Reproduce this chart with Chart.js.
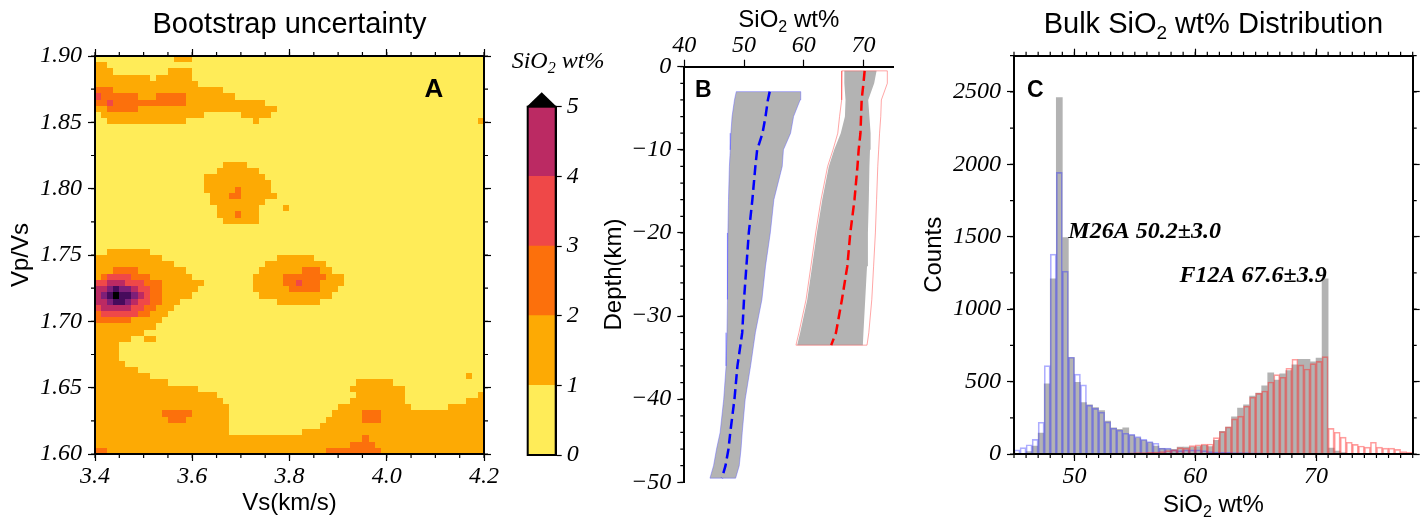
<!DOCTYPE html>
<html>
<head>
<meta charset="utf-8">
<title>Bootstrap uncertainty / SiO2 distribution</title>
<script src="https://cdn.jsdelivr.net/npm/chart.js@4.4.0/dist/chart.umd.min.js"></script>
<style>
  body { margin: 0; background: #fff; }
  #page { position: relative; width: 1423px; height: 519px; overflow: hidden; background: #fff; }
  canvas { position: absolute; top: 0; }
</style>
</head>
<body>
<div id="page">
  <canvas id="chartA" width="500" height="519" style="left:0"></canvas>
  <canvas id="chartBar" width="110" height="519" style="left:500px"></canvas>
  <canvas id="chartB" width="300" height="519" style="left:600px"></canvas>
  <canvas id="chartC" width="523" height="519" style="left:900px"></canvas>
</div>
<script>
// ---------- panel A : bootstrap uncertainty grid ----------
var vsRange = [3.4, 4.2];
var vpvsRange = [1.6, 1.9];
var vsTicks = [3.4, 3.6, 3.8, 4.0, 4.2];
var vpvsTicks = [1.60, 1.65, 1.70, 1.75, 1.80, 1.85, 1.90];
var levelColors = ['#ffec58', '#fdaa04', '#fc700c', '#ef4848', '#bb2a63', '#7e1f78', '#470b5c', '#000000'];
var colorbarTicks = [0, 1, 2, 3, 4, 5];

// one string per row (top row = Vp/Vs 1.90), one digit per cell = uncertainty class
// (spaces only group the 64 columns by 8, missing cells at the end are 0)
var uncertaintyRows = [
  "00000000 00000111",
  "11000000",
  "11100000 00001111",
  "11111111 10111111",
  "11111111 11111111 10000000",
  "22211111 11111111 11111000",
  "32222221 11222221 11111110",
  "22322222 22222221 11111111 11110000",
  "11222221 11111111 11111111 11111100",
  "01111111 11111111 11000000 11111000",
  "00111111 11111110 00000000 00100000 00000000 00000000 00000000 00000001",
  "", "", "", "", "", "",
  "00000000 00000000 00000111 10000000",
  "00000000 00000000 00001111 11100000",
  "00000000 00000000 00111111 11110000",
  "00000000 00000000 00111111 11111000",
  "00000000 00000000 00111112 11111000",
  "00000000 00000000 00011122 11111100",
  "00000000 00000000 00011111 11110000",
  "00000000 00000000 00001111 11100001",
  "00000000 00000000 00001112 11100000",
  "00000000 00000000 00000111 11100000",
  "", "", "", "",
  "00111111 10000000",
  "11111111 11100000 00000000 00000011 11110000",
  "11111111 11111000 00000000 00001111 11111100",
  "11122221 11111110 00000000 00011111 11222110",
  "12333322 21111111 00000000 00111112 22222211 10000000",
  "33444333 22211111 11000000 00111112 23222111 10000000",
  "44565543 32211111 10000000 00111111 22222111",
  "45676654 32211111 00000000 00011111 11111110",
  "44566543 32211100 00000000 00000011 11111000",
  "34444433 22111000",
  "23333332 21110000",
  "22222211 11100000",
  "11111111 11000000",
  "11111111",
  "11111100 11000000",
  "11110000",
  "11110000",
  "11110000",
  "11111000",
  "11111110",
  "11111111 10000000 00000000 00000000 00000000 00000000 00000000 00000100",
  "11111111 11110000 00000000 00000000 00000000 00011111 10000000",
  "11111111 11111111 10000000 00000000 00000000 00111111 11100000",
  "11111111 11111111 11110000 00000000 00000000 00011111 11100000 00000001",
  "11111111 11111111 11111000 00000000 00000000 00111111 11100000 00000111",
  "11111111 11111111 11111100 00000000 00000000 11111111 11110000 00111111",
  "11111111 11122222 11111100 00000000 00000001 11112221 11111111 11111111",
  "11111111 11112221 11111100 00000000 00000011 11112221 11111111 11111111",
  "11111111 11111111 11111100 00000000 00000111 11111111 11111111 11111111",
  "11111111 11111111 11111100 00000000 00111111 11111111 11111111 11111111",
  "11111111 11111111 11111111 11111111 11111111 11112111 11111111 11111111",
  "11111111 11111111 11111111 11111111 11111111 11222211 11111111 11111111",
  "22111111 11111111 11111111 11111111 11111122 22222221 11111111 11111111"
];

// ---------- panel B : SiO2 with depth ----------
var sio2Ticks = [40, 50, 60, 70];
var depthTicks = [-50, -40, -30, -20, -10, 0];
var blueDepth = [-3, -4, -6, -8, -10, -12, -16, -20, -24, -28, -32, -36, -40, -44, -46, -48, -49.5];
var blueLow   = [48.7, 48.4, 48.0, 47.8, 47.7, 47.55, 47.4, 47.3, 47.25, 47.2, 47.15, 47.0, 46.6, 46.0, 45.4, 44.9, 44.3];
var blueHigh  = [59.5, 59.4, 58.3, 57.8, 56.6, 56.4, 55.0, 54.4, 53.6, 53.0, 51.9, 51.1, 50.2, 49.7, 49.5, 49.2, 48.6];
var blueMid   = [54.3, 54.0, 53.6, 53.1, 52.2, 51.9, 51.4, 50.8, 50.4, 50.0, 49.7, 48.9, 48.4, 47.7, 47.4, 46.9, 46.3];

var redDepth   = [-0.5, -2, -4, -6, -8, -10, -12, -16, -20, -24, -28, -32, -33.5];
var redEnvLow  = [66.4, 66.4, 66.3, 66.0, 65.7, 64.9, 64.0, 62.9, 62.0, 61.2, 60.4, 59.2, 58.7];
var redEnvHigh = [74.0, 74.0, 73.0, 72.9, 72.7, 72.55, 72.4, 72.2, 72.0, 71.7, 71.4, 70.9, 70.6];
var redLow     = [66.8, 66.8, 67.0, 66.9, 66.2, 65.1, 64.2, 63.1, 62.2, 61.4, 60.6, 59.4, 58.9];
var redHigh    = [72.2, 71.8, 70.8, 71.0, 71.2, 71.1, 71.0, 70.9, 70.75, 70.6, 70.3, 70.0, 69.9];
var redMid     = [70.2, 70.0, 69.7, 69.6, 69.5, 69.2, 69.0, 68.5, 67.8, 67.3, 66.4, 65.4, 64.6];

// ---------- panel C : histogram, bins of 0.5 wt% from 45 ----------
var binStart = 45;
var binWidth = 0.5;
var histXTicks = [50, 60, 70];
var countTicks = [0, 500, 1000, 1500, 2000, 2500];
var allCounts = [3, 5, 16, 55, 145, 485, 1210, 2460, 1495, 665,
  495, 355, 340, 320, 300, 228, 180, 170, 180, 130,
  112, 95, 78, 55, 40, 35, 32, 48, 48, 48,
  51, 60, 51, 95, 157, 186, 257, 317, 339, 400,
  421, 470, 560, 511, 553, 576, 615, 654, 654, 636,
  663, 1210, 41, 21, 9, 3, 0, 0, 0, 0,
  0, 0, 0, 0, 0, 0];
var m26aCounts = [28, 44, 64, 101, 219, 610, 1380, 1944, 1262, 668,
  551, 477, 338, 315, 288, 222, 178, 164, 143, 136,
  120, 101, 85, 74, 41, 41, 28, 23, 28, 28,
  28, 23, 16, 14, 12, 12, 10, 10, 9, 8,
  8, 7, 6, 6, 5, 5, 4, 4, 3, 3,
  3, 2, 0, 0, 0, 0, 0, 0, 0, 0,
  0, 0, 0, 0, 0, 0];
var f12aCounts = [0, 0, 0, 0, 0, 0, 0, 0, 0, 2,
  3, 3, 4, 4, 5, 5, 6, 6, 7, 8,
  9, 10, 12, 14, 16, 23, 28, 44, 41, 58,
  64, 69, 69, 113, 154, 187, 242, 262, 330, 392,
  419, 435, 497, 548, 530, 592, 654, 615, 587, 624,
  640, 672, 177, 150, 117, 81, 67, 55, 48, 81,
  48, 41, 41, 32, 16, 12];
var histNotes = [
  { text: 'M26A 50.2\u00b13.0', x: 49.5, y: 1490 },
  { text: 'F12A 67.6\u00b13.9', x: 58.7, y: 1190 }
];

// ---------- shared look ----------
var SANS = '"Liberation Sans", Arial, sans-serif';
var SERIF = '"Liberation Serif", "Times New Roman", serif';
Chart.defaults.font.family = SANS;
Chart.defaults.color = '#000';
var tickFont = { family: SERIF, size: 24, style: 'italic' };

// o.at = tick values, o.labels = label formatter, o.size = fixed axis thickness
function axis(position, min, max, o) {
  o = o || {};
  return {
    type: 'linear',
    display: true,
    position: position,
    min: min,
    max: max,
    offset: false,
    grid: { display: true, offset: false, drawOnChartArea: false, drawTicks: true,
            tickLength: o.tick || 7, tickColor: '#000', tickWidth: 1.2 },
    border: { display: true, color: '#000', width: 2, z: 1 },
    ticks: { display: !!o.labels, autoSkip: false, maxRotation: 0, minRotation: 0,
             font: tickFont, color: '#000',
             padding: o.pad === undefined ? 6 : o.pad,
             callback: o.labels || function () { return ''; } },
    title: o.title || { display: false },
    afterBuildTicks: function (s) {
      s.ticks = o.at.map(function (v) { return { value: v }; });
    },
    afterFit: function (s) {
      if (!o.size) return;
      if (s.isHorizontal()) s.height = o.size; else s.width = o.size;
    }
  };
}

function axisTitle(text, padTop, padBottom) {
  return { display: true, text: text, color: '#000', font: { family: SANS, size: 24 },
           padding: { top: padTop, bottom: padBottom } };
}

// text with an optional subscript part
function drawRich(ctx, parts, x, y, font, align) {
  ctx.save();
  ctx.fillStyle = '#000';
  ctx.textBaseline = 'alphabetic';
  ctx.textAlign = 'left';
  var css = function (sub) {
    return (font.style || 'normal') + ' ' + (font.weight || 'normal') + ' ' +
      (sub ? Math.round(font.size * 0.66) : font.size) + 'px ' + font.family;
  };
  var widths = parts.map(function (p) { ctx.font = css(p.sub); return ctx.measureText(p.t).width; });
  var total = widths.reduce(function (a, b) { return a + b; }, 0);
  var cx = align === 'center' ? x - total / 2 : x;
  parts.forEach(function (p, i) {
    ctx.font = css(p.sub);
    ctx.fillText(p.t, cx, y + (p.sub ? font.size * 0.22 : 0));
    cx += widths[i];
  });
  ctx.restore();
}

// short ticks between the labelled ones
function minorTicks(list) {
  return {
    id: 'minorTicks',
    afterDraw: function (chart) {
      var ctx = chart.ctx, a = chart.chartArea;
      ctx.save();
      ctx.strokeStyle = '#000';
      ctx.lineWidth = 1.2;
      ctx.beginPath();
      list.forEach(function (m) {
        var s = chart.scales[m.id];
        var n = Math.round((s.max - s.min) / m.step);
        for (var k = 0; k <= n; k++) {
          var p = s.getPixelForValue(s.min + k * m.step);
          if (s.position === 'left') { ctx.moveTo(a.left - m.len, p); ctx.lineTo(a.left, p); }
          else if (s.position === 'right') { ctx.moveTo(a.right, p); ctx.lineTo(a.right + m.len, p); }
          else if (s.position === 'top') { ctx.moveTo(p, a.top - m.len); ctx.lineTo(p, a.top); }
          else { ctx.moveTo(p, a.bottom); ctx.lineTo(p, a.bottom + m.len); }
        }
      });
      ctx.stroke();
      ctx.restore();
    }
  };
}

var baseOptions = function () {
  return {
    responsive: false,
    animation: false,
    devicePixelRatio: 1,
    events: [],
    plugins: { legend: { display: false }, tooltip: { enabled: false } }
  };
};

// ---------- panel A ----------
var gridCells = uncertaintyRows.map(function (s) { return s.replace(/ /g, '').padEnd(64, '0'); });

var heatmap = {
  id: 'heatmap',
  beforeDatasetsDraw: function (chart) {
    var xs = chart.scales.x, ys = chart.scales.y, ctx = chart.ctx;
    var nRows = gridCells.length, nCols = gridCells[0].length;
    var dVs = (vsRange[1] - vsRange[0]) / nCols;
    var dR = (vpvsRange[1] - vpvsRange[0]) / nRows;
    ctx.save();
    gridCells.forEach(function (row, r) {
      var top = Math.round(ys.getPixelForValue(vpvsRange[1] - r * dR));
      var bottom = Math.round(ys.getPixelForValue(vpvsRange[1] - (r + 1) * dR));
      var c = 0;
      while (c < nCols) {
        var e = c;
        while (e + 1 < nCols && row[e + 1] === row[c]) e++;
        var left = Math.round(xs.getPixelForValue(vsRange[0] + c * dVs));
        var right = Math.round(xs.getPixelForValue(vsRange[0] + (e + 1) * dVs));
        ctx.fillStyle = levelColors[+row[c]];
        ctx.fillRect(left, top, right - left, bottom - top);
        c = e + 1;
      }
    });
    ctx.restore();
  }
};

var textA = {
  id: 'textA',
  afterDraw: function (chart) {
    var a = chart.chartArea, ctx = chart.ctx;
    drawRich(ctx, [{ t: 'Bootstrap uncertainty' }], (a.left + a.right) / 2, 32.5, { family: SANS, size: 29 }, 'center');
    drawRich(ctx, [{ t: 'A' }], a.right - 50, a.top + 41, { family: SANS, size: 26, weight: 'bold' }, 'center');
  }
};

var optA = baseOptions();
optA.scales = {
  x: axis('bottom', vsRange[0], vsRange[1], { at: vsTicks, labels: function (v) { return v.toFixed(1); },
        size: 65, pad: 1, title: axisTitle('Vs(km/s)', 0, 1) }),
  xTop: axis('top', vsRange[0], vsRange[1], { at: vsTicks, size: 56 }),
  y: axis('left', vpvsRange[0], vpvsRange[1], { at: vpvsTicks, labels: function (v) { return v.toFixed(2); },
        size: 95, pad: 6, title: axisTitle('Vp/Vs', 7, 0) }),
  yRight: axis('right', vpvsRange[0], vpvsRange[1], { at: vpvsTicks, size: 7 })
};
new Chart(document.getElementById('chartA'), {
  type: 'scatter',
  data: { datasets: [] },
  options: optA,
  plugins: [heatmap, textA, minorTicks([
    { id: 'x', step: 0.05, len: 4 }, { id: 'xTop', step: 0.05, len: 4 },
    { id: 'y', step: 0.025, len: 4 }, { id: 'yRight', step: 0.025, len: 4 }
  ])]
});

// ---------- colour bar ----------
var colorbarDecor = {
  id: 'colorbarDecor',
  afterDraw: function (chart) {
    var a = chart.chartArea, ctx = chart.ctx, ys = chart.scales.y;
    var top = ys.getPixelForValue(colorbarTicks[colorbarTicks.length - 1]);
    var bot = ys.getPixelForValue(colorbarTicks[0]);
    ctx.save();
    ctx.strokeStyle = '#000';
    ctx.lineWidth = 2;
    ctx.strokeRect(a.left, top, a.right - a.left, bot - top);
    ctx.fillStyle = '#000';
    ctx.beginPath();
    ctx.moveTo(a.left - 1, top);
    ctx.lineTo((a.left + a.right) / 2, top - 14.5);
    ctx.lineTo(a.right + 1, top);
    ctx.closePath();
    ctx.fill();
    ctx.restore();
    drawRich(ctx, [{ t: 'SiO' }, { t: '2', sub: true }, { t: ' wt%' }], 11.7, 68,
      { family: SERIF, size: 24, style: 'italic' }, 'left');
  }
};
var optBar = baseOptions();
optBar.layout = { padding: { left: 27.7, top: 106.7, bottom: 64, right: 0 } };
var barY = axis('right', colorbarTicks[0], colorbarTicks[colorbarTicks.length - 1],
  { at: colorbarTicks, labels: function (v) { return String(v); }, size: 54.3, pad: 5, tick: 6 });
barY.stacked = true;
optBar.scales = { x: { display: false, stacked: true }, y: barY };
new Chart(document.getElementById('chartBar'), {
  type: 'bar',
  data: {
    labels: [''],
    datasets: colorbarTicks.slice(1).map(function (t, i) {
      return { data: [t - colorbarTicks[i]], backgroundColor: levelColors[i], borderWidth: 0,
               barPercentage: 1, categoryPercentage: 1 };
    })
  },
  options: optBar,
  plugins: [colorbarDecor]
});

// ---------- panel B ----------
function bandPolygon(depth, low, high) {
  var pts = depth.map(function (d, i) { return { x: low[i], y: d }; });
  for (var i = depth.length - 1; i >= 0; i--) pts.push({ x: high[i], y: depth[i] });
  pts.push({ x: low[0], y: depth[0] });
  return pts;
}
function profile(depth, vals) {
  return depth.map(function (d, i) { return { x: vals[i], y: d }; });
}

var textB = {
  id: 'textB',
  afterDraw: function (chart) {
    var a = chart.chartArea, ctx = chart.ctx;
    drawRich(ctx, [{ t: 'SiO' }, { t: '2', sub: true }, { t: ' wt%' }], (a.left + a.right) / 2, 26.7,
      { family: SANS, size: 24 }, 'center');
    drawRich(ctx, [{ t: 'B' }], a.left + 10.7, a.top + 30, { family: SANS, size: 23, weight: 'bold' }, 'left');
  }
};
var optB = baseOptions();
optB.layout = { padding: { right: 6.7, bottom: 36.7 } };
optB.scales = {
  x: axis('top', 40, 75, { at: sio2Ticks, labels: function (v) { return String(v); }, size: 66.7, pad: 0 }),
  y: axis('left', -50, 0, { at: depthTicks, labels: function (v) { return v < 0 ? '\u2212' + (-v) : String(v); },
        size: 84.3, pad: 6, title: axisTitle('Depth(km)', 0, 0) })
};
new Chart(document.getElementById('chartB'), {
  type: 'scatter',
  data: {
    datasets: [
      { data: bandPolygon(blueDepth, blueLow, blueHigh), showLine: true, fill: 'shape',
        backgroundColor: '#b3b3b3', borderColor: 'rgba(90,90,255,0.45)', borderWidth: 1,
        pointRadius: 0, order: 3 },
      { data: bandPolygon(redDepth, redLow, redHigh), showLine: true, fill: 'shape',
        backgroundColor: '#b3b3b3', borderColor: 'rgba(0,0,0,0)', borderWidth: 1,
        pointRadius: 0, order: 3 },
      { data: bandPolygon(redDepth, redEnvLow, redEnvHigh), showLine: true, fill: false,
        borderColor: 'rgba(255,80,80,0.5)', borderWidth: 1, pointRadius: 0, order: 2 },
      { data: profile(blueDepth, blueMid), showLine: true, fill: false, borderColor: '#0000ff',
        borderWidth: 2.5, borderDash: [10, 5], pointRadius: 0, order: 1 },
      { data: profile(redDepth, redMid), showLine: true, fill: false, borderColor: '#ff0000',
        borderWidth: 2.5, borderDash: [10, 5], pointRadius: 0, order: 1 }
    ]
  },
  options: optB,
  plugins: [textB, minorTicks([{ id: 'y', step: 2, len: 4 }])]
});

// ---------- panel C ----------
function binPoints(counts) {
  return counts.map(function (c, i) { return { x: binStart + (i + 0.5) * binWidth, y: c > 0 ? c : null }; });
}
var textC = {
  id: 'textC',
  afterDraw: function (chart) {
    var a = chart.chartArea, ctx = chart.ctx, xs = chart.scales.x, ys = chart.scales.y;
    var cx = (a.left + a.right) / 2;
    drawRich(ctx, [{ t: 'Bulk SiO' }, { t: '2', sub: true }, { t: ' wt% Distribution' }], cx, 33,
      { family: SANS, size: 29 }, 'center');
    drawRich(ctx, [{ t: 'C' }], a.left + 13, a.top + 41, { family: SANS, size: 23, weight: 'bold' }, 'left');
    drawRich(ctx, [{ t: 'SiO' }, { t: '2', sub: true }, { t: ' wt%' }], cx, 511.7, { family: SANS, size: 24 }, 'center');
    histNotes.forEach(function (n) {
      drawRich(ctx, [{ t: n.text }], xs.getPixelForValue(n.x), ys.getPixelForValue(n.y),
        { family: SERIF, size: 24, style: 'italic', weight: 'bold' }, 'left');
    });
  }
};
var optC = baseOptions();
optC.datasets = { bar: { grouped: false, barPercentage: 1, categoryPercentage: 1 } };
optC.scales = {
  x: axis('bottom', 45, 78, { at: histXTicks, labels: function (v) { return String(v); }, size: 65, pad: 1 }),
  xTop: axis('top', 45, 78, { at: histXTicks, size: 55.7 }),
  y: axis('left', 0, 2750, { at: countTicks, labels: function (v) { return String(v); }, size: 114, pad: 6,
        title: axisTitle('Counts', 20, 0) }),
  yRight: axis('right', 0, 2750, { at: countTicks, size: 10.3 })
};
new Chart(document.getElementById('chartC'), {
  type: 'bar',
  data: {
    datasets: [
      { label: 'all', data: binPoints(allCounts), backgroundColor: '#b3b3b3', borderWidth: 0, order: 3 },
      { label: 'M26A', data: binPoints(m26aCounts), backgroundColor: 'rgba(0,0,0,0)',
        borderColor: 'rgba(50,50,255,0.4)', borderWidth: 1, order: 2 },
      { label: 'F12A', data: binPoints(f12aCounts), backgroundColor: 'rgba(0,0,0,0)',
        borderColor: 'rgba(255,40,40,0.45)', borderWidth: 1, order: 1 }
    ]
  },
  options: optC,
  plugins: [textC, minorTicks([
    { id: 'x', step: 1, len: 4 }, { id: 'xTop', step: 1, len: 4 },
    { id: 'y', step: 250, len: 4 }, { id: 'yRight', step: 250, len: 4 }
  ])]
});
</script>
</body>
</html>
